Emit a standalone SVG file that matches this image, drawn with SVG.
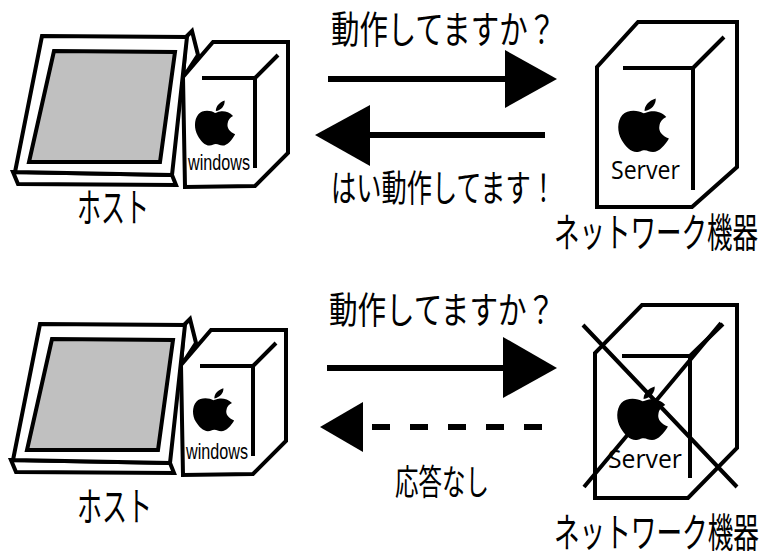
<svg xmlns="http://www.w3.org/2000/svg" width="762" height="556" viewBox="0 0 762 556">
  <style>
    .ln { fill: none; stroke: #000; stroke-width: 4; stroke-linejoin: miter; stroke-linecap: butt; }
    .face { fill: #fff; stroke: #000; stroke-width: 4; stroke-linejoin: miter; }
    .screen { fill: #c0c0c0; stroke: #000; stroke-width: 4; }
    .jp { font-family: "Noto Sans CJK JP", "Noto Sans", sans-serif; font-weight: 400; fill: #000; }
    .win { font-family: "Liberation Sans", Arial, sans-serif; fill: #000; }
    .srv { font-family: "Open Sans", "Noto Sans", sans-serif; fill: #000; }
    .shaft { stroke: #000; stroke-width: 6; fill: none; }
    .head { fill: #000; }
    .cross { stroke: #000; stroke-width: 4; fill: none; }
  </style>
  <defs>
    <!-- apple emblem, drawn in a 100 x 120 box -->
    <path id="apple" d="M50,34 C40,27 20,25 10,38 C0,52 0,76 9,94 C16,108 26,120 37,120 C44,120 46,116 52,116 C58,116 61,120 68,120 C80,120 91,104 98,90 C85,84 78,74 80,62 C81,52 86,46 93,42 C84,30 70,28 62,30 C57,31 54,33 50,34 Z M52,29 C52,16 60,6 73,1 C74,14 65,27 52,29 Z" fill="#000"/>
    <!-- desktop host: monitor on a base plus tower -->
    <g id="hostShape">
      <polygon class="face" points="186,37 192,31 198,55 183,78"/>
      <polygon class="face" points="13,172 172,175 176,185 18,184"/>
      <polygon class="face" points="42,36 187,37 172,175 15,172"/>
      <polygon class="screen" points="54,51 175,52 160,162 29,162"/>
      <path class="face" d="M183,77 L185,187 L255,186 L288,153 L288,42 L213,42 Z"/>
      <path class="ln" d="M202,78 H255 V168 M255,78 L278,55"/>
    </g>
  </defs>

  <!-- upper row: host answering -->
  <g id="host-top">
    <use href="#hostShape"/>
    <use href="#apple" transform="translate(194,100) scale(0.42,0.38)"/>
    <text class="win" x="188" y="170" font-size="22" textLength="62" lengthAdjust="spacingAndGlyphs">windows</text>
    <text class="jp" x="77" y="222" font-size="40" textLength="72" lengthAdjust="spacingAndGlyphs">ホスト</text>
  </g>

  <g id="server-top">
    <path class="face" d="M597,67 L597,207 L692,207 L737,167 L737,22 L638,22 Z"/>
    <path class="ln" d="M623,68 H693 V190 M693,68 L724,37"/>
    <use href="#apple" transform="translate(617,98) scale(0.53,0.45)"/>
    <text class="srv" x="611" y="179" font-size="25" textLength="69" lengthAdjust="spacingAndGlyphs">Server</text>
    <text class="jp" x="554" y="247" font-size="40" textLength="204" lengthAdjust="spacingAndGlyphs">ネットワーク機器</text>
  </g>

  <!-- lower row: device down, no reply -->
  <g id="host-bottom">
    <use href="#hostShape" transform="translate(-2,288)"/>
    <use href="#apple" transform="translate(192,388) scale(0.43,0.36)"/>
    <text class="win" x="186" y="459" font-size="22" textLength="62" lengthAdjust="spacingAndGlyphs">windows</text>
    <text class="jp" x="77" y="521" font-size="40" textLength="75" lengthAdjust="spacingAndGlyphs">ホスト</text>
  </g>

  <g id="server-bottom">
    <path class="face" d="M595,353 L595,498 L688,498 L737,448 L737,305 L642,305 Z"/>
    <path class="ln" d="M622,356 H690 V478 M690,356 L723,324"/>
    <use href="#apple" transform="translate(616,386) scale(0.53,0.45)"/>
    <text class="srv" x="608" y="468" font-size="26" textLength="74" lengthAdjust="spacingAndGlyphs">Server</text>
    <path class="cross" d="M583,325 L737,487 M584,487 L721,323"/>
    <text class="jp" x="554" y="547" font-size="40" textLength="205" lengthAdjust="spacingAndGlyphs">ネットワーク機器</text>
  </g>

  <g id="connectors">
    <!-- request, upper -->
    <line class="shaft" x1="328" y1="79" x2="508" y2="79"/>
    <polygon class="head" points="505,50 557,79 505,108"/>
    <text class="jp" x="331" y="43" font-size="38" textLength="225" lengthAdjust="spacingAndGlyphs">動作してますか？</text>
    <!-- reply, upper -->
    <line class="shaft" x1="367" y1="135" x2="545" y2="135"/>
    <polygon class="head" points="315,135 370,105 370,166"/>
    <text class="jp" x="331" y="202" font-size="37" textLength="225" lengthAdjust="spacingAndGlyphs">はい動作してます！</text>
    <!-- request, lower -->
    <line class="shaft" x1="327" y1="368" x2="506" y2="368"/>
    <polygon class="head" points="503,337 557,368 503,398"/>
    <text class="jp" x="329" y="324" font-size="37" textLength="226" lengthAdjust="spacingAndGlyphs">動作してますか？</text>
    <!-- missing reply, lower -->
    <line class="shaft" x1="372" y1="427" x2="543" y2="427" stroke-dasharray="18 20"/>
    <polygon class="head" points="320,427 363,402 363,452"/>
    <text class="jp" x="395" y="495" font-size="35" textLength="94" lengthAdjust="spacingAndGlyphs">応答なし</text>
  </g>
</svg>
